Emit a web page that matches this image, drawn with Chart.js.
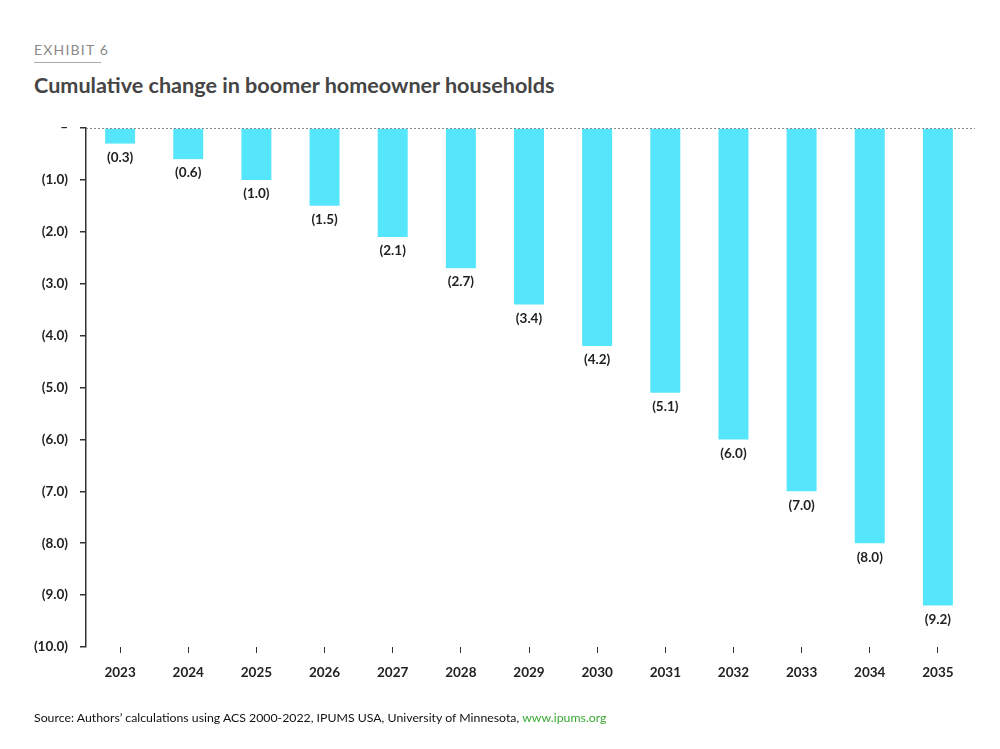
<!DOCTYPE html>
<html>
<head>
<meta charset="utf-8">
<script src="https://cdn.jsdelivr.net/npm/chart.js@4.4.0/dist/chart.umd.min.js"></script>
<style>
  body { margin: 0; background: #fff; }
  #wrap { position: relative; width: 1000px; height: 749px; font-family: Lato, "Open Sans", sans-serif; }
  #exhibit { position: absolute; left: 34px; top: 41px; font-size: 14px; letter-spacing: 1.2px; color: #8a8a8a; }
  #rule { position: absolute; left: 34px; top: 62px; width: 67px; height: 1px; background: #aaa; }
  #title { position: absolute; left: 34px; top: 72px; font-size: 21.6px; font-weight: bold; color: #454545; }
  #source { position: absolute; left: 34px; top: 710px; font-size: 12.3px; color: #111; }
  #source span { color: #3aaa35; }
  canvas { position: absolute; left: 0; top: 0; }
</style>
</head>
<body>
<div id="wrap">
  <div id="exhibit">EXHIBIT 6</div>
  <div id="rule"></div>
  <div id="title">Cumulative change in boomer homeowner households</div>
  <canvas id="mygraph" width="1000" height="749"></canvas>
  <div id="source">Source: Authors’ calculations using ACS 2000-2022, IPUMS USA, University of Minnesota, <span>www.ipums.org</span></div>
</div>
<script>
// Cumulative change in boomer homeowner households (millions)
var years = ["2023", "2024", "2025", "2026", "2027", "2028", "2029", "2030", "2031", "2032", "2033", "2034", "2035"];
var change = [-0.3, -0.6, -1.0, -1.5, -2.1, -2.7, -3.4, -4.2, -5.1, -6.0, -7.0, -8.0, -9.2];

function fmt(v) {
    if (v === 0) return "–";
    return "(" + Math.abs(v).toFixed(1) + ")";
}

// labels under each bar
var barLabels = {
    id: "barLabels",
    afterDatasetsDraw: function(chart) {
        var ctx = chart.ctx;
        var meta = chart.getDatasetMeta(0);
        ctx.save();
        ctx.font = "bold 13.5px Lato";
        ctx.fillStyle = "#222";
        ctx.textAlign = "center";
        ctx.textBaseline = "middle";
        meta.data.forEach(function(bar, i) {
            ctx.fillText(fmt(change[i]), bar.x, bar.y + 14);
        });
        ctx.restore();
    }
};

// dotted zero line
var zeroLine = {
    id: "zeroLine",
    afterDatasetsDraw: function(chart) {
        var ctx = chart.ctx;
        var y = chart.scales.y.getPixelForValue(0);
        ctx.save();
        ctx.strokeStyle = "#888";
        ctx.lineWidth = 1;
        ctx.setLineDash([2, 2]);
        ctx.beginPath();
        ctx.moveTo(chart.chartArea.left, y + 0.5);
        ctx.lineTo(chart.chartArea.right + 3, y + 0.5);
        ctx.stroke();
        ctx.restore();
    }
};

var ctx = document.getElementById("mygraph");

var myGraph = new Chart(ctx, {
    type: "bar",
    data: {
        labels: years,
        datasets: [{
            data: change,
            backgroundColor: "#56e6fb",
            barPercentage: 0.44,
            categoryPercentage: 1.0
        }]
    },
    options: {
        responsive: false,
        animation: false,
        layout: { padding: { top: 128, right: 28, left: 0, bottom: 0 } },
        plugins: { legend: { display: false }, tooltip: { enabled: false } },
        scales: {
            x: {
                grid: { offset: false, drawOnChartArea: false, tickLength: 6, color: "#333", lineWidth: 1 },
                border: { display: false },
                ticks: { padding: 12, color: "#222", font: { family: "Lato", size: 13.5, weight: "bold" } },
                afterFit: function(scale) { scale.height = 102; }
            },
            y: {
                min: -10,
                max: 0,
                grid: { drawOnChartArea: false, tickLength: 6, color: "#333", lineWidth: 1.5 },
                border: { display: true, color: "#333", width: 1.5 },
                ticks: {
                    stepSize: 1,
                    padding: 12,
                    color: "#222",
                    font: { family: "Lato", size: 13.5, weight: "bold" },
                    callback: function(v) { return fmt(v); }
                },
                afterFit: function(scale) { scale.width = 86; }
            }
        }
    },
    plugins: [zeroLine, barLabels]
});
</script>
</body>
</html>
